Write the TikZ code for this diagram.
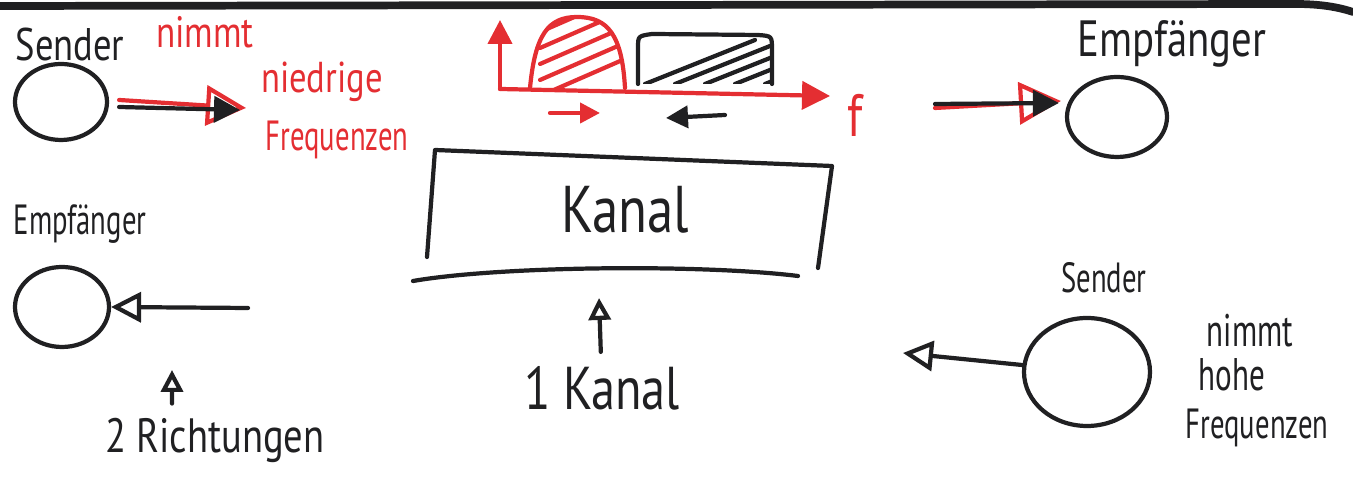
\documentclass[tikz,border=0pt]{standalone}
\usepackage{fontspec}
\setmainfont{PT Sans}
\usetikzlibrary{
    arrows.meta,
    shapes.geometric, % ellipse nodes
    positioning
}
\definecolor{pen}{RGB}{32,32,34}
\definecolor{redpen}{RGB}{228,46,50}

\begin{document}
\begin{tikzpicture}[x=0.1mm, y=-0.1mm, line cap=round, line join=round,
    marker/.style={line width=1.2pt},
    station/.style={ellipse, draw=pen, line width=1.2pt, inner sep=0pt},
    word/.style={text=pen, inner sep=1pt, xscale=0.8, font=\fontsize{#1}{#1}\selectfont},
    redword/.style={word=#1, text=redpen},
    narrow/.style={xscale=0.85},
    openhead/.style={-{Triangle[open, length=#1, width=#1, line width=1.2pt]}},
    fullhead/.style={-{Triangle[length=#1, width=#1]}}
]
    \useasboundingbox (0,0) rectangle (1353,483);
    \def\hump{(530,88) .. controls (535,35) and (548,17) .. (577,17) .. controls (608,17) and (622,35) .. (625,88)}
    \def\block{(638,84) -- (638,48) .. controls (638,36) .. (652,34) -- (758,35) .. controls (772,36) .. (772,50) -- (772,84)}

    % edge of the sheet
    \draw[pen, line width=2.2pt] (0,6) -- (1295,4) .. controls (1320,4) and (1338,7) .. (1353,12);

    % stations
    \node[station, minimum width=9.2mm, minimum height=7.6mm] (sendL) at (61,102) {};
    \node[station, minimum width=10mm, minimum height=8mm] (recvR) at (1117,117) {};
    \node[station, minimum width=9.4mm, minimum height=8mm] (recvL) at (62,307) {};
    \node[station, minimum width=12.6mm, minimum height=10.8mm] (sendR) at (1087,372) {};

    \node[word=13] (sendLlabel) at (70,45) {Sender};
    \node[word=14.5] (recvRlabel) at (1172,44) {Empfänger};
    \node[word=12, narrow] (recvLlabel) at (80,224) {Empfänger};
    \node[word=12, narrow] (sendRlabel) at (1104,278) {Sender};

    \node[redword=12.5] (lowA) at (205,32) {nimmt};
    \node[redword=12.3] (lowB) at (322,82) {niedrige};
    \node[redword=12, narrow] (lowC) at (337,140) {Frequenzen};
    \node[word=13, narrow] (highA) at (1250,331) {nimmt};
    \node[word=13, narrow] (highB) at (1232,375) {hohe};
    \node[word=12, narrow] (highC) at (1257,428) {Frequenzen};

    % free ends of the arrows
    \coordinate (tipL) at (246,108);
    \coordinate (tailR) at (935,104);
    \coordinate (tailL) at (248,308);
    \coordinate (tipR) at (903,353);

    \draw[redpen, marker, openhead=4mm] ([xshift=1mm, yshift=0.2mm]sendL.east) -- (tipL);
    \draw[pen, marker, fullhead=2.6mm] ([xshift=1mm, yshift=-0.5mm]sendL.east) -- ([xshift=-0.6mm, yshift=-0.2mm]tipL);
    \draw[redpen, marker, openhead=4.2mm] ([yshift=-0.4mm]tailR) -- ([xshift=-0.4mm, yshift=1.6mm]recvR.west);
    \draw[pen, marker, fullhead=2.6mm] (tailR) -- ([xshift=-0.6mm, yshift=1.4mm]recvR.west);
    \draw[pen, marker, openhead=3mm] (tailL) -- (recvL.east);
    \draw[pen, marker, openhead=3mm] ([yshift=0.7mm]sendR.west) -- (tipR);

    % spectrum
    \coordinate (org) at (500,89);
    \coordinate (aTip) at (500,20);
    \coordinate (fTip) at (830,96);
    \draw[redpen, marker, fullhead=2.4mm] (org) -- (aTip);
    \draw[redpen, marker, fullhead=2.8mm] (org) -- (fTip);
    \node[redword=17] (fLabel) at (855,115) {f};

    \draw[redpen, marker] \hump;
    \begin{scope}
        \clip \hump -- cycle;
        \foreach \k in {0,...,4}
            \draw[redpen, marker] (540,{96-\k*16}) -- ++(110,-48);
    \end{scope}
    \draw[pen, marker] \block;
    \begin{scope}
        \clip \block -- cycle;
        \foreach \k in {0,...,4}
            \draw[pen, marker] ({645+\k*30},84) -- ++(110,-44);
    \end{scope}

    \coordinate (upA) at (550,113);
    \coordinate (upB) at (600,113);
    \coordinate (downA) at (725,115);
    \coordinate (downB) at (666,118);
    \draw[redpen, marker, fullhead=2mm] (upA) -- (upB);
    \draw[pen, marker, fullhead=2.2mm] (downA) -- (downB);

    % channel
    \draw[pen, marker] (427,257) -- (435,150) -- (832,166) -- (818,268);
    \draw[pen, marker] (413,281) .. controls (500,266) and (700,264) .. (798,276);
    \node[word=18.8] (chan) at (625,210) {Kanal};
    \coordinate (chanBase) at (599,298);
    \node[word=17.2] (oneChan) at (602,388) {1 Kanal};
    \draw[pen, marker, openhead=2.2mm, shorten <=1mm] (oneChan) -- (chanBase);

    \coordinate (recvBase) at (172,370);
    \node[word=13.7] (twoWays) at (215,440) {2 Richtungen};
    \draw[pen, marker, openhead=2.2mm, shorten <=1mm] ([xshift=-4.3mm]twoWays.north) -- (recvBase);
\end{tikzpicture}
\end{document}
